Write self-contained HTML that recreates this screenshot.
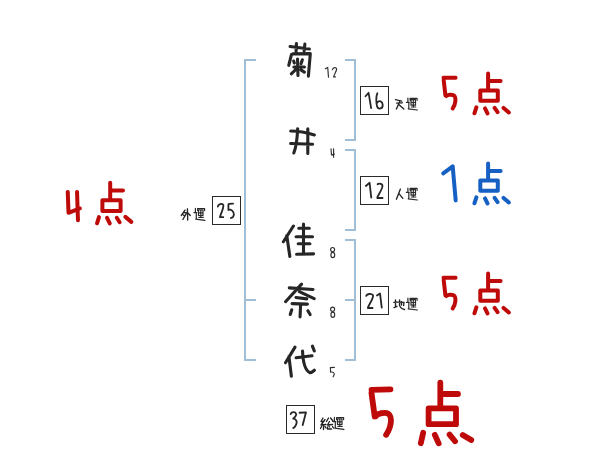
<!DOCTYPE html>
<html><head><meta charset="utf-8">
<style>
html,body{margin:0;padding:0;background:#fff;width:600px;height:470px;overflow:hidden}
svg{position:absolute;left:0;top:0}
</style></head><body>
<svg width="600" height="470" viewBox="0 0 600 470">
<g fill="none" stroke="#a0bed6" stroke-width="2"><path d="M256,60 H245 V360 H256 M245,300 H256"/><path d="M345,60 H355 V140 H345"/><path d="M345,150 H355 V230 H345"/><path d="M345,240 H355 V360 H345 M345,300 H355"/></g>
<g fill="none" stroke="#2a2a2a" stroke-width="1"><rect x="360.5" y="86.5" width="28" height="28"/><rect x="360.5" y="176.5" width="28" height="28"/><rect x="360.5" y="286.5" width="28" height="28"/><rect x="212.5" y="196.5" width="28" height="28"/><rect x="286.5" y="405.5" width="28" height="28"/></g>
<path d="M371.53,389.95L390.47,389.45 M371.48,393.01L374.72,416.49 M375.90,416.20C377,414 381.50,412.80 385,412.80C389,412.80 391,416 391,420C391,426 388,432 386.13,434.81" fill="none" stroke="#bf0a0a" stroke-width="5.8" stroke-linecap="round" stroke-linejoin="round"/>
<path d="M440.30,382.63L440.30,405.67 M443.03,394L457.97,394 M428.60,408.40L456,408.40L456,424.20L428.60,424.20Z M423.16,432.78L420.84,443.22 M434.83,434.85L438.67,443.35 M449.58,434.57L455.02,441.23 M462.75,435.02L471.25,439.98" fill="none" stroke="#bf0a0a" stroke-width="5.8" stroke-linecap="round" stroke-linejoin="round"/>
<path d="M67.75,191.90L68.50,212.80L79.89,208.49 M77.04,191.90L77.96,220.20" fill="none" stroke="#bf0a0a" stroke-width="4" stroke-linecap="round" stroke-linejoin="round"/>
<path d="M110.20,182.80L110.20,199.80 M112.40,190.60L123,190.60 M102.40,200.20L120.60,200.20L120.60,210.90L102.40,210.90Z M98.98,217.13L97.02,223.27 M107.03,217.85L109.77,223.35 M116.76,217.78L119.64,222.22 M125.37,216.90L131.33,221.90" fill="none" stroke="#bf0a0a" stroke-width="4" stroke-linecap="round" stroke-linejoin="round"/>
<path d="M443.50,77.70L455.60,77.70 M443.66,79.89L445.44,95.51 M446.46,96.01C447.50,94.80 451.50,94.20 454,95.50C456.30,97.30 455.80,104.50 452.66,108.50" fill="none" stroke="#bf0a0a" stroke-width="4" stroke-linecap="round" stroke-linejoin="round"/>
<path d="M488.10,73.40L488.10,89.10 M490.20,81L500.60,81 M480.30,90.50L497.80,90.50L497.80,100.80L480.30,100.80Z M476.37,107.33L474.43,113.27 M485.03,108.45L487.47,113.35 M494.62,107.94L497.58,112.06 M503.56,107.92L508.84,112.48" fill="none" stroke="#bf0a0a" stroke-width="4" stroke-linecap="round" stroke-linejoin="round"/>
<path transform="translate(0,200)" d="M443.50,77.70L455.60,77.70 M443.66,79.89L445.44,95.51 M446.46,96.01C447.50,94.80 451.50,94.20 454,95.50C456.30,97.30 455.80,104.50 452.66,108.50" fill="none" stroke="#bf0a0a" stroke-width="4" stroke-linecap="round" stroke-linejoin="round"/>
<path transform="translate(0,200)" d="M488.10,73.40L488.10,89.10 M490.20,81L500.60,81 M480.30,90.50L497.80,90.50L497.80,100.80L480.30,100.80Z M476.37,107.33L474.43,113.27 M485.03,108.45L487.47,113.35 M494.62,107.94L497.58,112.06 M503.56,107.92L508.84,112.48" fill="none" stroke="#bf0a0a" stroke-width="4" stroke-linecap="round" stroke-linejoin="round"/>
<path d="M443.23,173.27L452.70,166.30L455.68,200.41" fill="none" stroke="#1660c4" stroke-width="4" stroke-linecap="round" stroke-linejoin="round"/>
<path transform="translate(0,90)" d="M488.10,73.40L488.10,89.10 M490.20,81L500.60,81 M480.30,90.50L497.80,90.50L497.80,100.80L480.30,100.80Z M476.37,107.33L474.43,113.27 M485.03,108.45L487.47,113.35 M494.62,107.94L497.58,112.06 M503.56,107.92L508.84,112.48" fill="none" stroke="#1660c4" stroke-width="4" stroke-linecap="round" stroke-linejoin="round"/>
<path d="M290.08,46.45L309.42,49.05 M296.45,43.48L296.05,51.52 M304.88,44.08L304.12,50.92 M291.44,54.65L288.76,65.35 M292.78,53.88L310.30,53.60L308.39,76.22 M293.88,67L304.42,67 M297.53,58.98L297.97,75.42 M293.66,61.02L294.34,62.98 M302.36,59.73L301.04,63.67 M295.91,69.44L291.29,73.76 M300.91,69.89L304.39,72.11" fill="none" stroke="#262626" stroke-width="3.1" stroke-linecap="round" stroke-linejoin="round"/>
<path d="M290.69,131Q302,131 314.37,134.97 M290.68,143.44L312.62,144.26 M297.66,128.78Q297,145 293.80,152.99 M307.80,128.78L307.80,153.41" fill="none" stroke="#262626" stroke-width="3.1" stroke-linecap="round" stroke-linejoin="round"/>
<path d="M293.42,226.02L283.38,241.78 M286.76,235.57L289.84,256.43 M303.50,224.09L303.50,252.72 M298.78,228.30L309.31,228.30 M296.08,236.80L312.52,236.80 M298.19,243.70L309.92,243.70 M296.58,254.27L313.62,253.83" fill="none" stroke="#262626" stroke-width="3.1" stroke-linecap="round" stroke-linejoin="round"/>
<path d="M289.28,287.87L313.02,289.43 M301.57,284.10L285.53,301.70 M299.29,291.65L314.21,298.55 M295.98,297.53L306.82,298.87 M292.08,303.64L307.42,304.16 M300.55,305.78L300.05,316.92 M291.77,309.73L290.23,314.47 M307.86,310.73L310.14,314.57" fill="none" stroke="#262626" stroke-width="3.1" stroke-linecap="round" stroke-linejoin="round"/>
<path d="M295.03,347.13L285.47,362.77 M288.93,356.58L291.37,376.22 M296.08,357.77L312.02,355.83 M302.54,350.98C303,362 305,370 309.50,372.50C311,373 313,371.50 314.40,370.23 M312.40,346.11L314.30,350.99" fill="none" stroke="#262626" stroke-width="3.1" stroke-linecap="round" stroke-linejoin="round"/>
<path d="M325.30,68.79L327.70,67.40L328.48,77.17 M332.35,69.78C333,67 337,67 336.60,69.50C336,72 334,75 333.60,77L335.47,76.82" fill="none" stroke="#303030" stroke-width="1.15" stroke-linecap="round" stroke-linejoin="round"/>
<path d="M331.02,148.73L331.50,154.90L334.48,154.06 M333.60,148.73L333.60,157.17" fill="none" stroke="#303030" stroke-width="1.15" stroke-linecap="round" stroke-linejoin="round"/>
<path d="M330.33,367.68L334.37,367.42 M330.41,368.23L330.60,372.20C333,371.50 335,373 334,375L333.10,376.79" fill="none" stroke="#303030" stroke-width="1.15" stroke-linecap="round" stroke-linejoin="round"/>
<g fill="none" stroke="#303030" stroke-width="1.15"><ellipse cx="332.6" cy="249.6" rx="2.0" ry="2.1"/><ellipse cx="332.8" cy="255" rx="1.9" ry="2.6"/><ellipse cx="332.6" cy="309.3" rx="2.0" ry="2.1"/><ellipse cx="332.8" cy="314.8" rx="1.9" ry="2.6"/></g>
<path d="M365.50,96.26L368.60,92.80L371.13,108.06 M377.40,93.20C376,96 376,103 377,106C378,110 383,109 382.70,104.70C382.50,101 379,100 377.25,102.63" fill="none" stroke="#262626" stroke-width="1.8" stroke-linecap="round" stroke-linejoin="round"/>
<path d="M365.84,186.01L369.60,182.80L371.25,197.55 M377.55,184.21C379,183 383,184 382.40,186.50C382,190 378,195 377.20,198L382.55,198" fill="none" stroke="#262626" stroke-width="1.8" stroke-linecap="round" stroke-linejoin="round"/>
<path d="M366.18,295.89C367,294 371,293 373,295.20C374,298 369,304 367.80,308L372.55,308 M376.97,295.49L380,293.40L381.74,307.55" fill="none" stroke="#262626" stroke-width="1.8" stroke-linecap="round" stroke-linejoin="round"/>
<path d="M217.83,206.55C218,204 222,203 223.30,204.90C224,208 221,213 219.90,217.20L223.25,217.20 M228.85,203.96L233.05,203.64 M228.40,204.45L228.40,210C231,209 234,211 233.90,214.70C233.50,217 232,218 230.95,218" fill="none" stroke="#262626" stroke-width="1.8" stroke-linecap="round" stroke-linejoin="round"/>
<path d="M290.67,414.06C291,412 295,411 296.20,414C296.50,416 294,418 293.20,418.70C296,419 297,421 296.60,423C296,426 294,428 293.25,428 M299.55,412.77L306,412.30L302.71,425.06" fill="none" stroke="#262626" stroke-width="1.8" stroke-linecap="round" stroke-linejoin="round"/>
<path transform="translate(404.5,95.7)" d="M3.4,2.4 V5.8 M1.9,6.6 H4.8 M4.3,7 V12.9 M3.7,13.1 L12.9,14.3 M5.6,4.6 V2.6 H12.6 V4.6 M6.5,4 H11 V9.5 H6.5 Z M6.5,6.8 H11 M8.8,4 V11.5 M6.8,11.3 H11.3" fill="none" stroke="#2a2a2a" stroke-width="1.2" stroke-linecap="round" stroke-linejoin="round"/>
<path transform="translate(404.5,185.7)" d="M3.4,2.4 V5.8 M1.9,6.6 H4.8 M4.3,7 V12.9 M3.7,13.1 L12.9,14.3 M5.6,4.6 V2.6 H12.6 V4.6 M6.5,4 H11 V9.5 H6.5 Z M6.5,6.8 H11 M8.8,4 V11.5 M6.8,11.3 H11.3" fill="none" stroke="#2a2a2a" stroke-width="1.2" stroke-linecap="round" stroke-linejoin="round"/>
<path transform="translate(404.5,295.7)" d="M3.4,2.4 V5.8 M1.9,6.6 H4.8 M4.3,7 V12.9 M3.7,13.1 L12.9,14.3 M5.6,4.6 V2.6 H12.6 V4.6 M6.5,4 H11 V9.5 H6.5 Z M6.5,6.8 H11 M8.8,4 V11.5 M6.8,11.3 H11.3" fill="none" stroke="#2a2a2a" stroke-width="1.2" stroke-linecap="round" stroke-linejoin="round"/>
<path transform="translate(192,206)" d="M3.4,2.4 V5.8 M1.9,6.6 H4.8 M4.3,7 V12.9 M3.7,13.1 L12.9,14.3 M5.6,4.6 V2.6 H12.6 V4.6 M6.5,4 H11 V9.5 H6.5 Z M6.5,6.8 H11 M8.8,4 V11.5 M6.8,11.3 H11.3" fill="none" stroke="#2a2a2a" stroke-width="1.2" stroke-linecap="round" stroke-linejoin="round"/>
<path transform="translate(331,415)" d="M3.4,2.4 V5.8 M1.9,6.6 H4.8 M4.3,7 V12.9 M3.7,13.1 L12.9,14.3 M5.6,4.6 V2.6 H12.6 V4.6 M6.5,4 H11 V9.5 H6.5 Z M6.5,6.8 H11 M8.8,4 V11.5 M6.8,11.3 H11.3" fill="none" stroke="#2a2a2a" stroke-width="1.2" stroke-linecap="round" stroke-linejoin="round"/>
<path transform="translate(390,94)" d="M5.5,5.6 L11.7,7.1 M6.7,9.1 L12.3,8.8 M9.6,7.7 L6.4,15 M8.8,10.6 L13.8,15" fill="none" stroke="#222" stroke-width="1.35" stroke-linecap="round" stroke-linejoin="round"/>
<path transform="translate(390,184)" d="M10.4,5.1 L6.4,15.2 M8.8,9.3 L12.8,14.4" fill="none" stroke="#222" stroke-width="1.35" stroke-linecap="round" stroke-linejoin="round"/>
<path transform="translate(390,294)" d="M3.8,8.3 L7,8.1 M5.5,6 V12.3 M4,13.6 L7,12.3 M8,8.1 L14,8.3 L13.6,11.5 M9.6,6 V10.2 M9.4,10.2 C9.5,12.5 10.5,14.5 14.5,15.5 M11.5,7.7 V11" fill="none" stroke="#222" stroke-width="1.35" stroke-linecap="round" stroke-linejoin="round"/>
<path transform="translate(177,204)" d="M8,6.1 L4.3,11.5 M7.2,8.5 L9.6,8.8 L5.9,15.5 M6.4,10.9 L7.7,12.5 M10.4,4.8 L10.7,16 M11.2,9.3 L13.3,11.5" fill="none" stroke="#222" stroke-width="1.35" stroke-linecap="round" stroke-linejoin="round"/>
<path transform="translate(317.5,413)" d="M5.5,5 L3.5,8.5 L6.5,8.2 M7.5,6.5 L3.5,12 L8.5,11.5 M6,12 V16.5 M4,13.5 L3,15.5 M7.5,13.5 L8.5,15 M11,5 L9,8.5 M13,5 L15.5,8 M12,8.5 L10,12 L15,11.5 M10,14 L10,16 L14,16 M11.5,13 L12,14 M15,13.5 L16,15" fill="none" stroke="#222" stroke-width="1.35" stroke-linecap="round" stroke-linejoin="round"/>
</svg>
</body></html>
